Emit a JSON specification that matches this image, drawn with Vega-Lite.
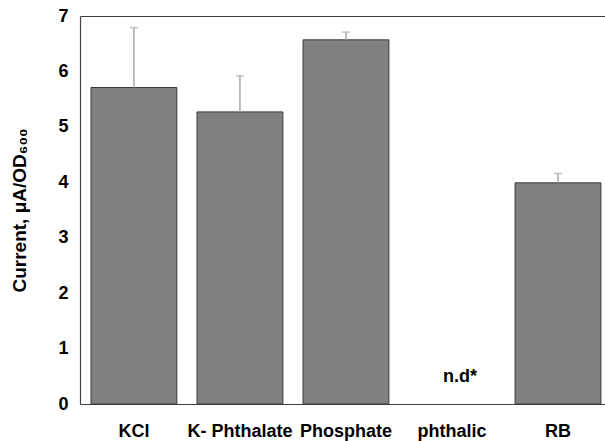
{
  "$schema": "https://vega.github.io/schema/vega-lite/v6.json",
  "autosize": {"type": "none"},
  "width": 525,
  "height": 388,
  "padding": {"left": 80, "top": 16, "right": 0, "bottom": 37},
  "background": "white",
  "config": {"view": {"stroke": null}, "font": "Liberation Sans"},
  "data": {"values": [
    {"cat": "KCl", "value": 5.71, "upper": 6.79, "note": ""},
    {"cat": "K- Phthalate", "value": 5.27, "upper": 5.92, "note": ""},
    {"cat": "Phosphate", "value": 6.57, "upper": 6.71, "note": ""},
    {"cat": "phthalic", "value": null, "upper": null, "note": "n.d*"},
    {"cat": "RB", "value": 3.99, "upper": 4.16, "note": ""}
  ]},
  "layer": [
    {
      "mark": {"type": "bar", "fill": "#808080", "stroke": "#3a3a3a", "strokeWidth": 1},
      "encoding": {
        "x": {"field": "cat", "type": "nominal", "sort": null,
          "scale": {"domain": ["KCl", "K- Phthalate", "Phosphate", "phthalic", "RB"], "paddingInner": 0.19, "paddingOuter": 0.071, "align": 0.73},
          "axis": {"orient": "bottom", "title": null, "labelAngle": 0, "labelFont": "Liberation Sans", "labelFontSize": 18, "labelFontWeight": "bold", "labelColor": "#000", "labelPadding": 18, "ticks": false, "domainColor": "#404040", "domainWidth": 1.2}},
        "y": {"field": "value", "type": "quantitative",
          "scale": {"domain": [0, 7], "nice": false},
          "axis": {"title": "Current, μA/OD₆₀₀", "titleFont": "Liberation Sans", "titleFontSize": 19, "titleFontWeight": "bold", "titleColor": "#000", "titlePadding": 28,
            "values": [0, 1, 2, 3, 4, 5, 6, 7], "format": "d", "grid": false, "ticks": false, "tickSize": 0,
            "labelFont": "Liberation Sans", "labelFontSize": 18, "labelFontWeight": "bold", "labelColor": "#000", "labelPadding": 12, "labelFlush": false,
            "domainColor": "#404040", "domainWidth": 1.2}}
      }
    },
    {
      "mark": {"type": "rule", "color": "#a8a8a8", "strokeWidth": 1.5},
      "encoding": {
        "x": {"field": "cat", "type": "nominal", "sort": null, "axis": {"orient": "top", "title": null, "labels": false, "ticks": false, "domainColor": "#404040", "domainWidth": 1.2}},
        "y": {"field": "value", "type": "quantitative"},
        "y2": {"field": "upper"}
      }
    },
    {
      "mark": {"type": "tick", "color": "#a8a8a8", "thickness": 1.5, "size": 8, "orient": "horizontal"},
      "encoding": {
        "x": {"field": "cat", "type": "nominal", "sort": null, "axis": null},
        "y": {"field": "upper", "type": "quantitative"}
      }
    },
    {
      "mark": {"type": "text", "font": "Liberation Sans", "fontSize": 18, "fontWeight": "bold", "color": "#000", "baseline": "bottom", "dy": -18, "dx": 8},
      "encoding": {
        "x": {"field": "cat", "type": "nominal", "sort": null, "axis": null},
        "y": {"datum": 0},
        "text": {"field": "note"}
      }
    }
  ],
  "resolve": {"axis": {"x": "independent"}}
}
